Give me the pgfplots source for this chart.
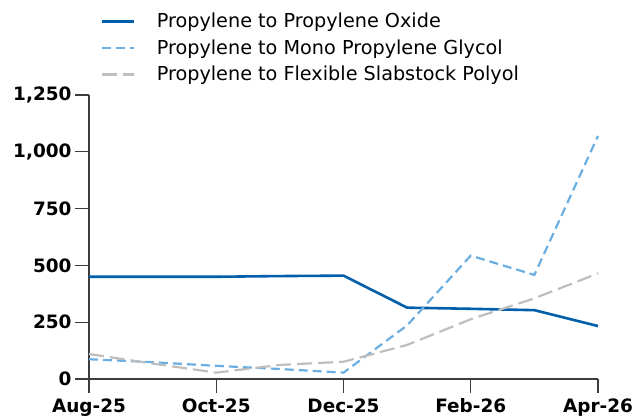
\documentclass[border=0pt]{standalone}
\usepackage{pgfplots}
\pgfplotsset{compat=1.18}
\usepackage{fontspec}
\setmainfont{DejaVu Sans}
\definecolor{cOx}{RGB}{0,94,170}
\definecolor{cGly}{RGB}{106,174,226}
\definecolor{cSlab}{RGB}{190,190,190}
\definecolor{cAx}{RGB}{60,60,60}
\begin{document}
\begin{tikzpicture}[x=1bp,y=1bp]
\path[use as bounding box] (0,0) rectangle (633,419);
\begin{axis}[
  at={(89bp,40bp)}, anchor=south west,
  scale only axis, width=509bp, height=284bp,
  xmin=0, xmax=8, ymin=0, ymax=1250,
  axis x line*=bottom, axis y line*=left,
  axis line style={cAx, line width=1.2pt, -},
  xtick={0,2,4,6,8},
  xticklabels={Aug-25,Oct-25,Dec-25,Feb-26,Apr-26},
  ytick={0,250,500,750,1000,1250},
  yticklabels={0,{250},{500},{750},{1,000},{1,250}},
  tick align=outside,
  major tick length=14bp,
  tick style={cAx, line width=1.2pt},
  tick label style={font=\fontsize{18.5}{20}\selectfont\bfseries},
  xticklabel style={yshift=-2bp},
  clip=false,
  legend style={at={(9bp,370bp)}, anchor=north west, draw=none, fill=none,
    font=\fontsize{19.3}{21}\selectfont, row sep=6.5bp,
    cells={anchor=west},
    /tikz/every odd column/.append style={column sep=10bp}},
  legend image code/.code={\draw[#1] (0bp,0bp) -- (32bp,0bp);},
  legend cell align=left,
  legend style={nodes={inner xsep=11bp}},
]
\addplot[cOx, line width=2.6pt] coordinates {
 (0,450) (1,450) (2,450) (3,453) (4,455) (5,314) (6,309) (7,303) (8,233)};
\addlegendentry{Propylene to Propylene Oxide}
\addplot[cGly, line width=2.2pt, dash pattern=on 9bp off 5bp] coordinates {
 (0,87) (1,74) (2,58) (3,44) (4,28) (5,236) (6,543) (7,458) (8,1070)};
\addlegendentry{Propylene to Mono Propylene Glycol}
\addplot[cSlab, line width=2.2pt, dash pattern=on 15bp off 6bp] coordinates {
 (0,110) (1,68) (2,28) (3,62) (4,76) (5,150) (6,263) (7,355) (8,465)};
\addlegendentry{Propylene to Flexible Slabstock Polyol}
\end{axis}
\end{tikzpicture}
\end{document}
